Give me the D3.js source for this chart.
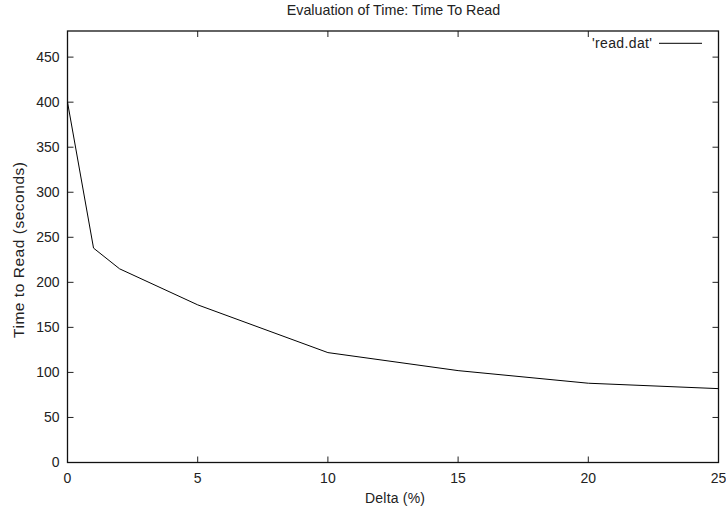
<!DOCTYPE html>
<html>
<head>
<meta charset="utf-8">
<script src="https://cdn.jsdelivr.net/npm/d3@7"></script>
<style>
  body { margin: 0; background: #fff; }
  svg { display: block; font-family: "Liberation Sans", Arial, sans-serif; }
</style>
</head>
<body>
<svg width="726" height="509"></svg>
<script>
// data
const delta = [0, 1, 2, 5, 10, 15, 20, 25];
const timeToRead = [400, 238, 215, 175, 122, 102, 88, 82];
const xTicks = [0, 5, 10, 15, 20, 25];
const yTicks = [0, 50, 100, 150, 200, 250, 300, 350, 400, 450];

const margin = {top: 31, right: 7.5, bottom: 46.5, left: 67.5};
const width = 726 - margin.left - margin.right;
const height = 509 - margin.top - margin.bottom;

const svg = d3.select("svg");
const g = svg.append("g")
    .attr("transform", "translate(" + margin.left + "," + margin.top + ")");

const x = d3.scaleLinear().domain([0, 25]).range([0, width]);
const y = d3.scaleLinear().domain([0, 479]).range([height, 0]);

const tickLen = 6;

// ticks, mirrored on all four sides, pointing inward
g.selectAll(".ytick").data(yTicks).enter().append("path")
    .attr("d", d => "M0," + y(d) + "h" + tickLen + "M" + width + "," + y(d) + "h" + (-tickLen))
    .attr("stroke", "#222").attr("stroke-width", 1);
g.selectAll(".xtick").data(xTicks).enter().append("path")
    .attr("d", d => "M" + x(d) + "," + height + "v" + (-tickLen) + "M" + x(d) + ",0v" + tickLen)
    .attr("stroke", "#222").attr("stroke-width", 1);

g.selectAll(".ylab").data(yTicks).enter().append("text")
    .attr("x", -8).attr("y", d => y(d)).attr("dy", "0.35em")
    .attr("text-anchor", "end").attr("font-size", 14).attr("fill", "#222")
    .text(d => d);
g.selectAll(".xlab").data(xTicks).enter().append("text")
    .attr("x", d => x(d)).attr("y", height + 20)
    .attr("text-anchor", "middle").attr("font-size", 14).attr("fill", "#222")
    .text(d => d);

// frame
g.append("rect")
    .attr("width", width).attr("height", height)
    .attr("fill", "none").attr("stroke", "#111").attr("stroke-width", 1.3);

// data line
const line = d3.line().x((d, i) => x(delta[i])).y(d => y(d));
g.append("path")
    .datum(timeToRead)
    .attr("d", line)
    .attr("fill", "none").attr("stroke", "#000").attr("stroke-width", 1);

// legend
g.append("text")
    .attr("x", 592 - margin.left).attr("y", 47.5 - margin.top)
    .attr("font-size", 14).attr("fill", "#222")
    .attr("textLength", 60).attr("lengthAdjust", "spacing")
    .text("'read.dat'");
g.append("line")
    .attr("x1", 659 - margin.left).attr("x2", 702 - margin.left)
    .attr("y1", 43.3 - margin.top).attr("y2", 43.3 - margin.top)
    .attr("stroke", "#000").attr("stroke-width", 1);

// titles
svg.append("text")
    .attr("x", 393.5).attr("y", 15)
    .attr("text-anchor", "middle").attr("font-size", 14.3).attr("fill", "#222")
    .text("Evaluation of Time: Time To Read");
svg.append("text")
    .attr("x", 395).attr("y", 503)
    .attr("text-anchor", "middle").attr("font-size", 14).attr("fill", "#222")
    .attr("textLength", 60).attr("lengthAdjust", "spacing")
    .text("Delta (%)");
svg.append("text")
    .attr("transform", "translate(23.5,250) rotate(-90)")
    .attr("text-anchor", "middle").attr("font-size", 15.5).attr("fill", "#222")
    .attr("textLength", 176).attr("lengthAdjust", "spacing")
    .text("Time to Read (seconds)");
</script>
</body>
</html>
